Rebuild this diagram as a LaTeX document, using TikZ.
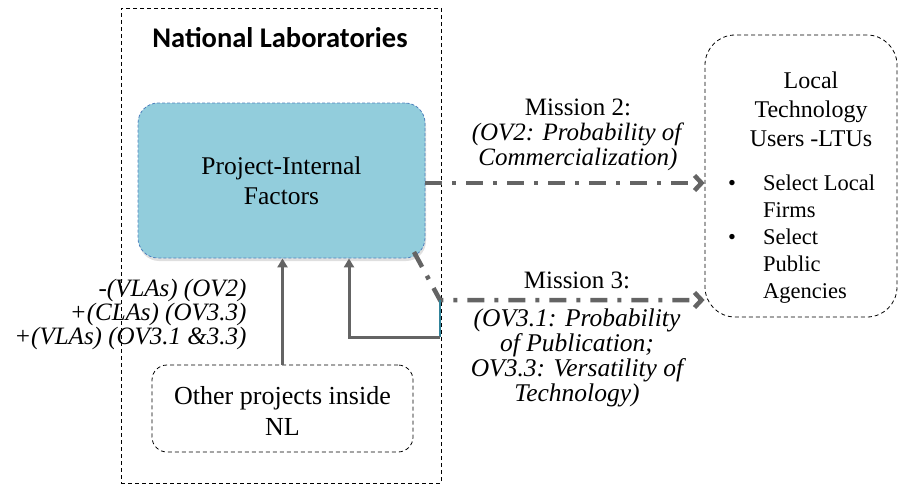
\documentclass[tikz,border=0pt]{standalone}
\usepackage{fontspec}
\setmainfont{Liberation Serif}
\newfontfamily\titlefont{Carlito}
\usetikzlibrary{arrows.meta,shadows}
\definecolor{pifblue}{RGB}{146,205,220}
\definecolor{pifedge}{RGB}{79,129,189}
\definecolor{arrowgray}{RGB}{100,100,100}
\definecolor{feedteal}{RGB}{49,132,155}

\begin{document}
\begin{tikzpicture}[x=1pt,y=-1pt,
	dashbox/.style={draw,dash pattern=on 4pt off 3pt,line width=0.8pt,inner sep=0},
	pifbox/.style={fill=pifblue,draw=pifedge,dash pattern=on 3pt off 2pt,line width=0.8pt,rounded corners=20pt,minimum width=287pt,minimum height=155pt,align=center,font=\fontsize{25.5}{30}\selectfont,drop shadow={opacity=0.25,shadow xshift=1pt,shadow yshift=-3pt}},
	labeltext/.style={align=center,font=\fontsize{25}{25}\selectfont},
	missionarrow/.style={draw=arrowgray,line width=4.5pt,dash pattern=on 17pt off 10pt on 4pt off 10pt,-{Straight Barb[length=7pt,width=15pt]}},
	solidarrow/.style={draw=arrowgray,line width=3pt,-{Triangle[length=9pt,width=10pt]}}]
	\useasboundingbox (0,0) rectangle (900,487);
	\node[dashbox,minimum width=320pt,minimum height=475pt] (nl) at (281,245.5) {};
	\node[font=\titlefont\bfseries\fontsize{28.5}{32}\selectfont] (nltitle) at (280,38) {National Laboratories};
	\node[pifbox] (pif) at (281.5,180.5) {Project-Internal\\Factors};
	\node[dashbox,rounded corners=15pt,minimum width=261pt,minimum height=87pt] (other) at (282.5,408.5) {};
	\node[align=center,font=\fontsize{26}{31}\selectfont] (othertext) at (282.5,411) {Other projects inside\\NL};
	\node[dashbox,rounded corners=30pt,minimum width=192pt,minimum height=282pt] (ltu) at (801,176) {};
	\node[align=center,font=\fontsize{24}{29}\selectfont] (ltutitle) at (811,109) {Local\\Technology\\Users -LTUs};
	\node[anchor=base west,inner sep=0,font=\fontsize{22.5}{27}\selectfont] (ltulist) at (728,190) {\begin{tabular}[t]{@{}l@{}}\makebox[35pt][l]{\textbullet}Select Local\\\makebox[35pt][l]{}Firms\\\makebox[35pt][l]{\textbullet}Select\\\makebox[35pt][l]{}Public\\\makebox[35pt][l]{}Agencies\end{tabular}};
	\node[labeltext] (m2label) at (578,135) {Mission 2:\\\textit{(OV2: Probability of}\\\textit{Commercialization)}};
	\node[labeltext] (m3title) at (577,280) {Mission 3:};
	\node[labeltext,font=\itshape\fontsize{25.5}{25}\selectfont] (m3label) at (577,358) {(OV3.1: Probability\\of Publication;\\OV3.3: Versatility of\\Technology)};
	\node[anchor=east,align=right,font=\itshape\fontsize{25}{24}\selectfont] (nleffects) at (250,314) {-(VLAs) (OV2)\\+(CLAs) (OV3.3)\\+(VLAs) (OV3.1 \&3.3)};
	\coordinate (m3start) at (414,252);
	\coordinate (m3bend) at (440,300);
	\coordinate (fbcorner) at (440,337);
	\draw[missionarrow] ([yshift=-2.5pt]pif.east) -- ([yshift=-2.5pt]pif.east -| ltu.west);
	\draw[missionarrow] (m3start) -- (m3bend) -- (m3bend -| ltu.west);
	\draw[feedteal,line width=2pt] (m3bend) -- (fbcorner);
	\draw[solidarrow] (fbcorner) -| ([xshift=67.5pt]pif.south);
	\draw[solidarrow] (other.north) -- (other.north |- pif.south);
\end{tikzpicture}
\end{document}
